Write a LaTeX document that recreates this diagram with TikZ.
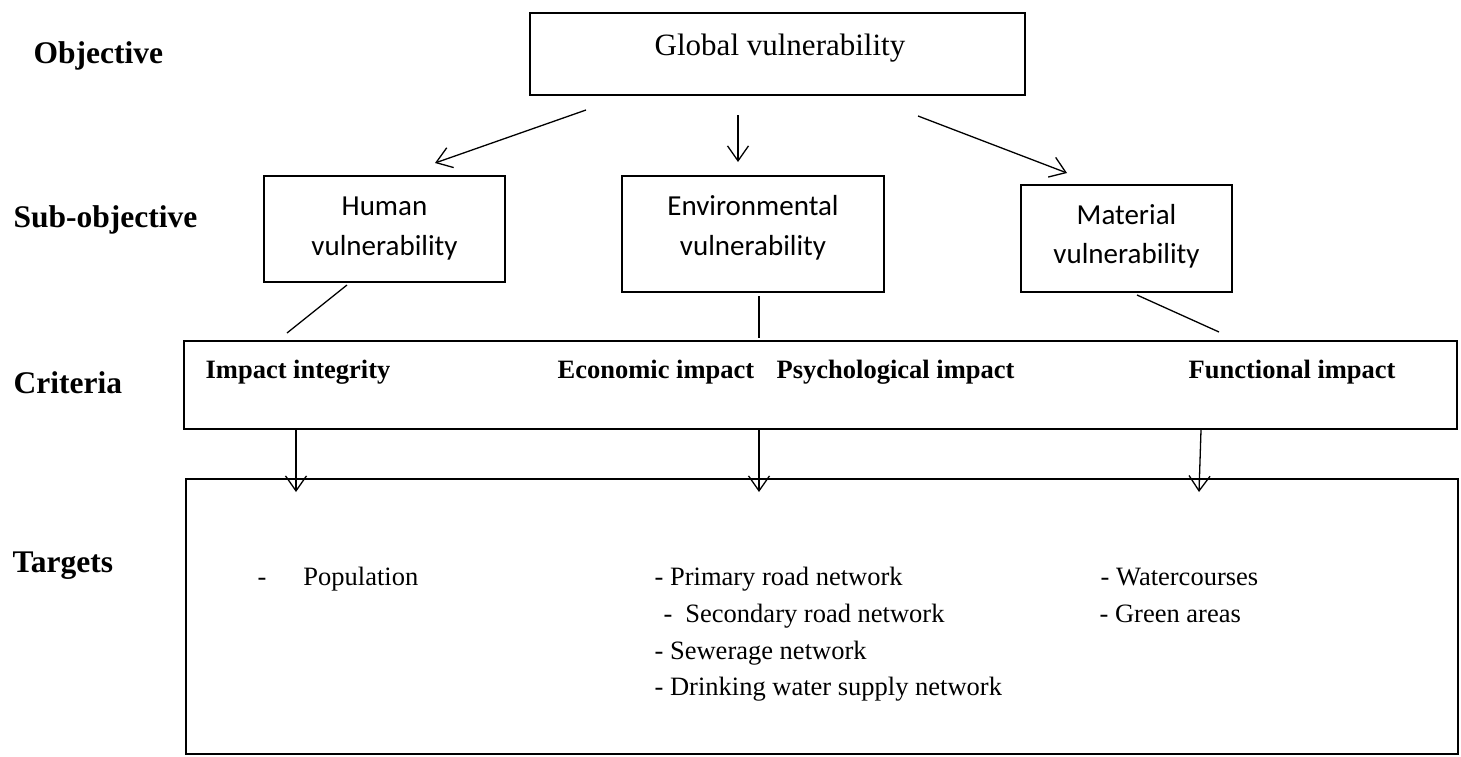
\documentclass[tikz,border=0pt]{standalone}
\usepackage{fontspec}
\setmainfont{Liberation Serif}
\newfontfamily\calibfont{Carlito}
\usepackage{tikz}
\usetikzlibrary{arrows.meta}
\newcommand\levelfont{\bfseries\fontsize{31.5}{38}\selectfont}
\newcommand\globfont{\fontsize{31}{37}\selectfont}
\newcommand\subfont{\calibfont\fontsize{29}{40}\selectfont}
\newcommand\critfont{\bfseries\fontsize{26.5}{32}\selectfont}
\newcommand\targfont{\fontsize{26.5}{37}\selectfont}

\begin{document}
\begin{tikzpicture}[x=1pt, y=-1pt, line width=1.3pt,
  box/.style={draw, rectangle, inner sep=0pt},
  arr/.style={-{Straight Barb[length=15pt, width=21pt]}},
  lvl/.style={anchor=base west, font=\levelfont, inner sep=0pt},
  crittxt/.style={anchor=base west, font=\critfont, inner sep=0pt},
  targtxt/.style={anchor=base west, font=\targfont, inner sep=0pt},
  subtxt/.style={anchor=base, font=\subfont, inner sep=0pt}]
\useasboundingbox (0,0) rectangle (1461,756);

% level names
\node[lvl] (objlbl) at (33,63) {Objective};
\node[lvl] (sublbl) at (13,227) {Sub-objective};
\node[lvl] (critlbl) at (13,393) {Criteria};
\node[lvl] (targlbl) at (12,572) {Targets};

% objective
\node[box, minimum width=495pt, minimum height=82pt] (glob) at (777.5,54) {};
\node[anchor=base, font=\globfont, inner sep=0pt] (globtxt) at (780,55) {Global vulnerability};

% sub-objectives
\node[box, minimum width=241pt, minimum height=106pt] (hum) at (384.5,229) {};
\node[subtxt] (humtxt) at (384.5,215) {Human};
\node[subtxt] (humtxtb) at (384.5,255) {vulnerability};

\node[box, minimum width=262pt, minimum height=116pt] (env) at (753,234) {};
\node[subtxt] (envtxt) at (753,215) {Environmental};
\node[subtxt] (envtxtb) at (753,255) {vulnerability};

\node[box, minimum width=211pt, minimum height=107pt] (mat) at (1126.5,238.5) {};
\node[subtxt] (mattxt) at (1126.5,224) {Material};
\node[subtxt] (mattxtb) at (1126.5,263) {vulnerability};

% criteria
\node[box, minimum width=1273pt, minimum height=88pt] (crit) at (820.5,385) {};
\node[crittxt] (integ) at (205,378) {Impact integrity};
\node[crittxt] (econ) at (557,378) {Economic impact};
\node[crittxt] (psych) at (776,378) {Psychological impact};
\node[crittxt] (func) at (1188,378) {Functional impact};

% targets
\node[box, minimum width=1272pt, minimum height=275pt] (targ) at (822,616.5) {};
\node[targtxt] (popul) at (257,585) {-\hspace{37pt}Population};
\node[targtxt] (road1) at (654,585) {- Primary road network};
\node[targtxt] (road2) at (663,622) {-\hspace{13pt}Secondary road network};
\node[targtxt] (sewer) at (654,659) {- Sewerage network};
\node[targtxt] (water) at (654,695) {- Drinking water supply network};
\node[targtxt] (wcourse) at (1100,585) {- Watercourses};
\node[targtxt] (green) at (1099,622) {- Green areas};

% connector ends
\coordinate (ga) at (586,110); \coordinate (ha) at (435,163);
\coordinate (gb) at (738,115); \coordinate (eb) at (738,162);
\coordinate (gc) at (918,116); \coordinate (mc) at (1067,173);
\coordinate (hd) at (347,285); \coordinate (cd) at (287,333);
\coordinate (ee) at (759,296); \coordinate (ce) at (759,338);
\coordinate (mf) at (1137,295); \coordinate (cf) at (1219,332);
\coordinate (c1) at (296,430); \coordinate (t1) at (296,492);
\coordinate (c2) at (759,430); \coordinate (t2) at (759,492);
\coordinate (c3) at (1201,430); \coordinate (t3) at (1199,492);

\draw[arr] (ga) -- (ha);
\draw[arr] (gb) -- (eb);
\draw[arr] (gc) -- (mc);
\draw (hd) -- (cd);
\draw (ee) -- (ce);
\draw (mf) -- (cf);
\draw[arr] (c1) -- (t1);
\draw[arr] (c2) -- (t2);
\draw[arr] (c3) -- (t3);
\end{tikzpicture}
\end{document}
